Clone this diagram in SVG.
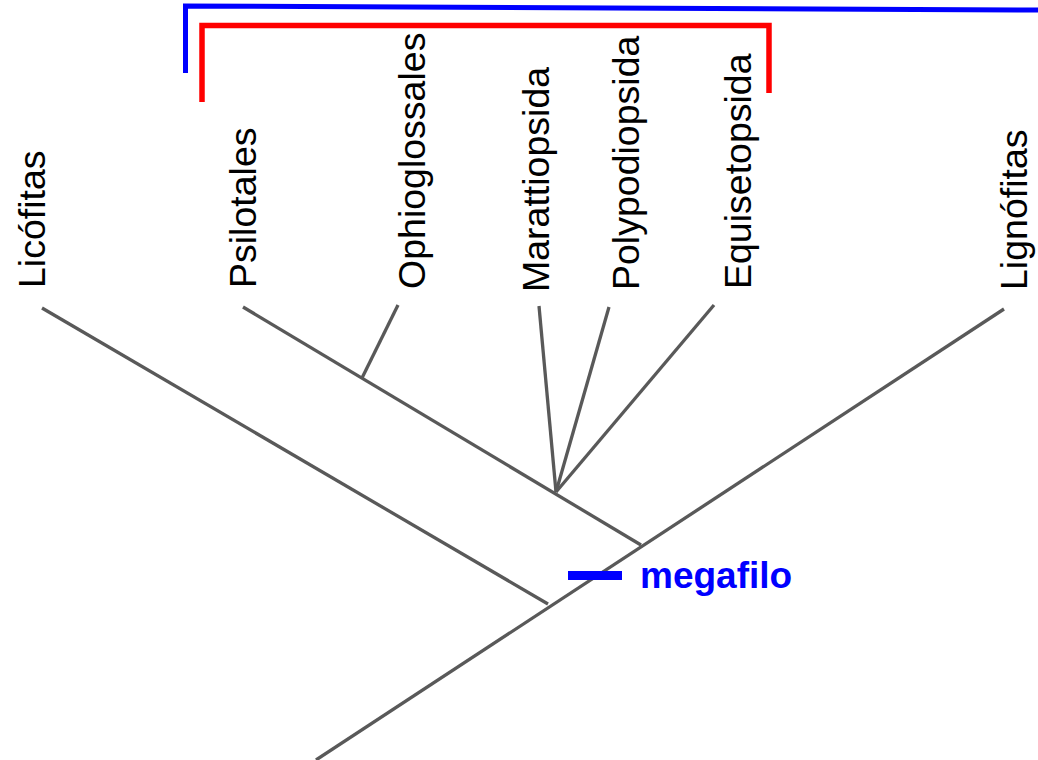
<svg xmlns="http://www.w3.org/2000/svg" width="1038" height="760" viewBox="0 0 1038 760">
  <style>
    .lbl { font-family: "Liberation Sans", Arial, sans-serif; font-size: 37.5px; fill: #000; }
    .edge { stroke: #595959; stroke-width: 3.3; fill: none; stroke-linecap: butt; }
    .red { stroke: #ff0000; stroke-width: 5.5; fill: none; }
    .blue { stroke: #0000ff; stroke-width: 5; fill: none; }
    .mark { font-family: "Liberation Sans", Arial, sans-serif; font-size: 37px; font-weight: bold; fill: #0000ff; }
  </style>
  <rect width="1038" height="760" fill="#ffffff"/>

  <g id="connectors">
    <line class="edge" x1="1004" y1="309" x2="316" y2="760"/>
    <line class="edge" x1="42" y1="308" x2="548" y2="604"/>
    <line class="edge" x1="243" y1="307" x2="641" y2="545"/>
    <line class="edge" x1="398" y1="305" x2="362" y2="378"/>
    <line class="edge" x1="539" y1="306" x2="556" y2="492"/>
    <line class="edge" x1="609" y1="307" x2="556" y2="492"/>
    <line class="edge" x1="714" y1="305" x2="556" y2="492"/>
  </g>

  <g id="bracket-blue">
    <polyline class="blue" points="185.5,73 185.5,6 1038,10"/>
  </g>
  <g id="bracket-red">
    <polyline class="red" points="202,102 202,25.5 769,25.5 769,93"/>
  </g>

  <g id="node-licofitas"><text class="lbl" transform="translate(45,288) rotate(-90)">Licófitas</text></g>
  <g id="node-psilotales"><text class="lbl" transform="translate(256,288) rotate(-90)">Psilotales</text></g>
  <g id="node-ophioglossales"><text class="lbl" transform="translate(425,289) rotate(-90)">Ophioglossales</text></g>
  <g id="node-marattiopsida"><text class="lbl" transform="translate(549,292) rotate(-90)">Marattiopsida</text></g>
  <g id="node-polypodiopsida"><text class="lbl" transform="translate(639,290) rotate(-90)">Polypodiopsida</text></g>
  <g id="node-equisetopsida"><text class="lbl" transform="translate(751,289) rotate(-90)">Equisetopsida</text></g>
  <g id="node-lignofitas"><text class="lbl" transform="translate(1027,290) rotate(-90)">Lignófitas</text></g>

  <g id="node-megafilo">
    <line x1="568" y1="575.5" x2="622" y2="575.5" stroke="#0000ff" stroke-width="9"/>
    <text class="mark" x="640" y="588">megafilo</text>
  </g>
</svg>
